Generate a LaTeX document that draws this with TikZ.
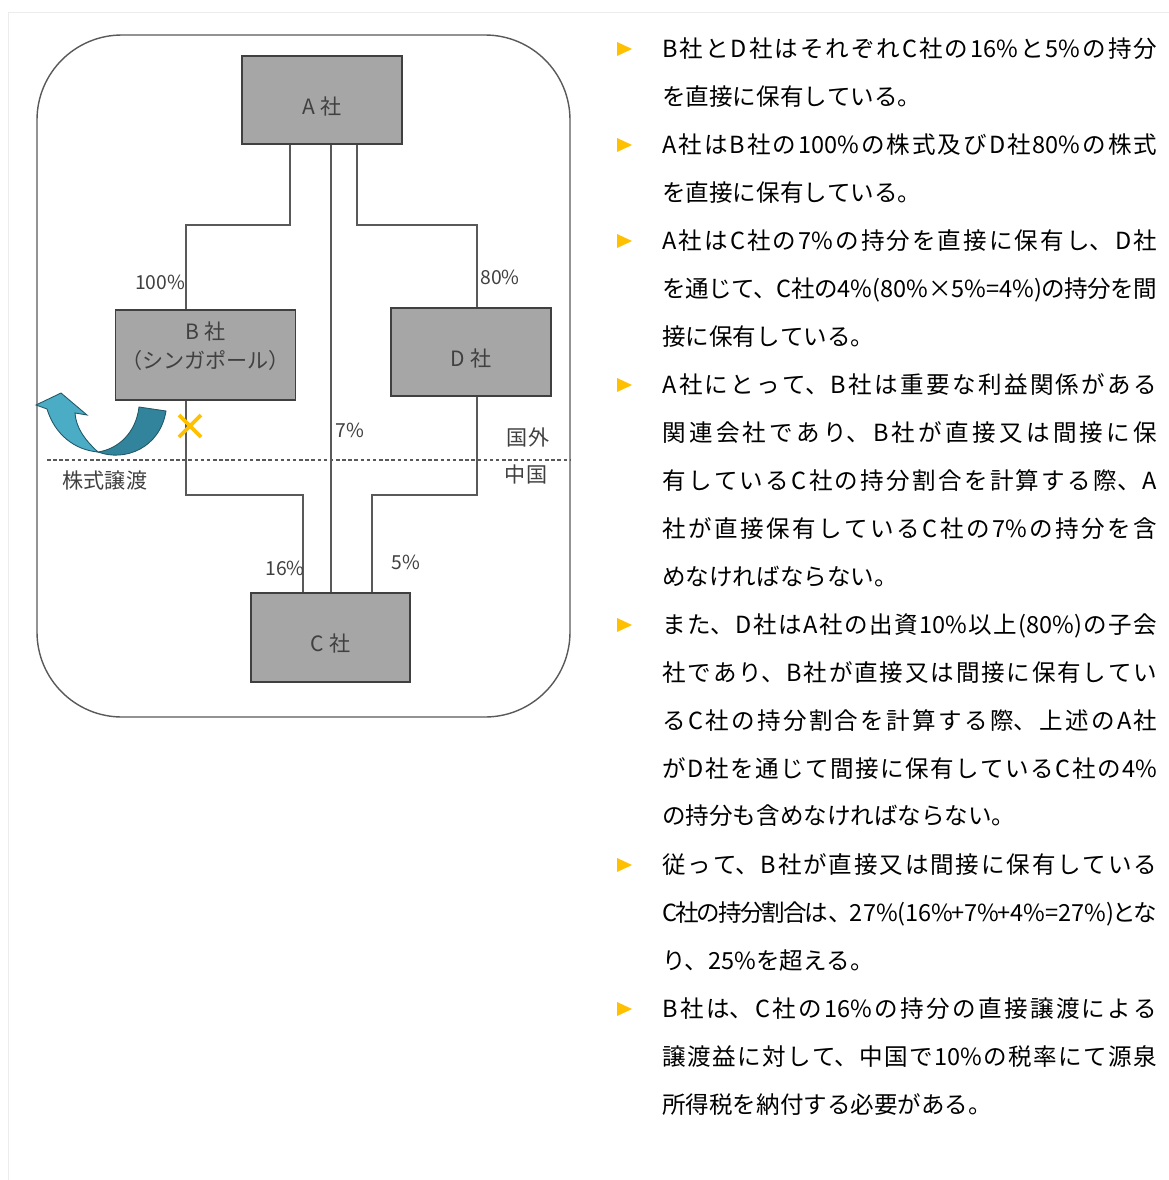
\documentclass[tikz,border=0pt]{standalone}
\usepackage{fontspec}
\setmainfont{Noto Sans CJK JP}
\usetikzlibrary{positioning}
\definecolor{BoxGrey}{HTML}{A6A6A6}
\definecolor{BoxEdge}{HTML}{404040}
\definecolor{LinkGrey}{HTML}{595959}
\definecolor{ArrowLight}{HTML}{4BACC6}
\definecolor{ArrowDark}{HTML}{31849B}
\definecolor{ArrowEdge}{HTML}{215968}
\definecolor{Marker}{HTML}{FFC000}
\XeTeXlinebreaklocale "ja"
\XeTeXlinebreakskip=0pt plus 3pt minus 1.2pt
\XeTeXlinebreakpenalty=10000

\begin{document}
\begin{tikzpicture}[x=0.02cm,y=-0.02cm,
    box/.style={draw=BoxEdge, fill=BoxGrey, text=BoxEdge, line width=0.8pt,
      minimum width=3.2cm, minimum height=1.76cm, align=center,
      font=\fontsize{12}{15}\selectfont},
    low/.style={text height=16pt, text depth=0pt},
    link/.style={draw=LinkGrey, line width=0.8pt},
    lbl/.style={text=BoxEdge, inner sep=0pt, font=\fontsize{12}{14}\selectfont},
    pct/.style={lbl, font=\fontsize{11}{13}\selectfont},
    para/.style={anchor=north west, inner sep=0pt, text width=9.9cm, align=justify,
      font=\fontsize{13.4}{27.3}\selectfont}]
  \useasboundingbox (0,0) rectangle (1169,1180);
  \draw[gray!15] (8,1180) -- (8,12) -- (1169,12);
  \draw[LinkGrey, line width=0.8pt, rounded corners=1.7cm] (37,35) rectangle (570,717);

  \node[box, low] (A) at (322,100) {A 社};
  \node[box, minimum width=3.38cm, minimum height=1.8cm, text depth=11pt,
    font=\fontsize{12}{16.5}\selectfont] (B) at (205.5,355) {B 社\\（シンガポール）};
  \node[box, low] (D) at (471,352) {D 社};
  \node[box, low, minimum width=3.18cm, minimum height=1.78cm] (C) at (330.5,637.5) {C 社};

  \coordinate (ab) at (290,225);
  \coordinate (ba) at (186,225);
  \coordinate (ad) at (357,225);
  \coordinate (da) at (477,225);
  \coordinate (ac) at (331,0);
  \coordinate (bc) at (186,495);
  \coordinate (cb) at (303,495);
  \coordinate (dc) at (477,495);
  \coordinate (cd) at (372,495);
  \draw[link] (A.south -| ab) -- (ab) -- (ba) -- (B.north -| ba);
  \draw[link] (A.south -| ad) -- (ad) -- (da) -- (D.north -| da);
  \draw[link] (A.south -| ac) -- (C.north -| ac);
  \draw[link] (B.south -| bc) -- (bc) -- (cb) -- (C.north -| cb);
  \draw[link] (D.south -| dc) -- (dc) -- (cd) -- (C.north -| cd);

  \draw[LinkGrey, line width=0.6pt, dash pattern=on 2pt off 1.5pt] (47,460) -- (570,460);

  \node[pct] (p100) at (160,282) {100\%};
  \node[pct] (p80) at (500,277) {80\%};
  \node[pct] (p7) at (350,430) {7\%};
  \node[pct] (p16) at (285,568) {16\%};
  \node[pct] (p5) at (406,562) {5\%};
  \node[lbl] (abroad) at (528,437) {国外};
  \node[lbl] (china) at (526,474) {中国};
  \node[lbl] (transfer) at (105,481) {株式譲渡};

  \draw[Marker, line width=2.2pt] (179,415) -- (201,437) (179,437) -- (201,415);

  \filldraw[fill=ArrowDark, draw=ArrowEdge, line width=0.5pt]
    (139,407) .. controls (136,433) and (118,449) .. (98,452)
    .. controls (125,462) and (160,448) .. (166,411) -- cycle;
  \filldraw[fill=ArrowLight, draw=ArrowEdge, line width=0.5pt]
    (47,409) .. controls (55,435) and (75,450) .. (98,452)
    .. controls (85,440) and (76,428) .. (75,413) -- (87,415) -- (61,393) -- (36,405) -- cycle;

  \foreach \y in {49,145,241,385,625,865,1009}
    \fill[Marker] (617,\y-7) -- (632,\y) -- (617,\y+7) -- cycle;

  \node[para] (t1) at (662,37) {B社とD社はそれぞれC社の16\%と5\%の持分\linebreak を直接に保有している。};
  \node[para] (t2) at (662,133) {A社はB社の100\%の株式及びD社80\%の株式\linebreak を直接に保有している。};
  \node[para] (t3) at (662,229) {A社はC社の7\%の持分を直接に保有し、D社\linebreak を通じて、C社の4\%(80\%×5\%=4\%)の持分を間\linebreak 接に保有している。};
  \node[para] (t4) at (662,373) {A社にとって、B社は重要な利益関係がある\linebreak 関連会社であり、B社が直接又は間接に保\linebreak 有しているC社の持分割合を計算する際、A\linebreak 社が直接保有しているC社の7\%の持分を含\linebreak めなければならない。};
  \node[para] (t5) at (662,613) {また、D社はA社の出資10\%以上(80\%)の子会\linebreak 社であり、B社が直接又は間接に保有してい\linebreak るC社の持分割合を計算する際、上述のA社\linebreak がD社を通じて間接に保有しているC社の4\%\linebreak の持分も含めなければならない。};
  \node[para] (t6) at (662,853) {従って、B社が直接又は間接に保有している\linebreak C社の持分割合は、27\%(16\%+7\%+4\%=27\%)とな\linebreak り、25\%を超える。};
  \node[para] (t7) at (662,997) {B社は、C社の16\%の持分の直接譲渡による\linebreak 譲渡益に対して、中国で10\%の税率にて源泉\linebreak 所得税を納付する必要がある。};
\end{tikzpicture}
\end{document}
